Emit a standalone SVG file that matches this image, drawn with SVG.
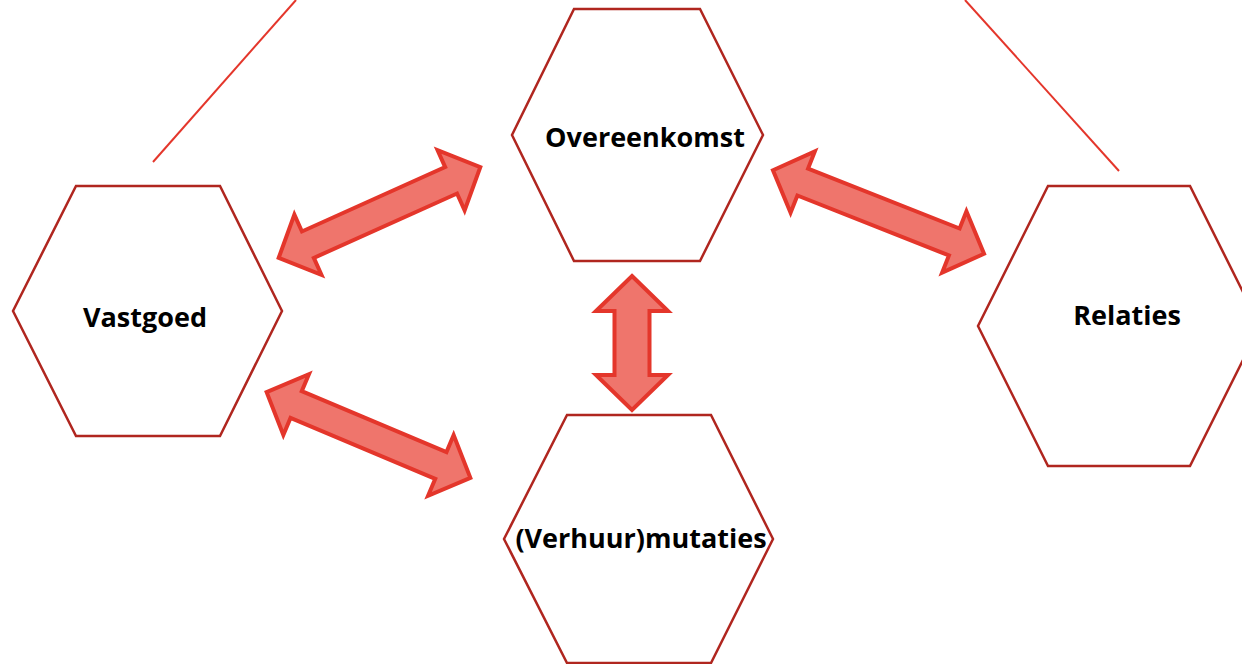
<svg xmlns="http://www.w3.org/2000/svg" width="1242" height="664" viewBox="0 0 1242 664">
<style>
.hex{fill:#ffffff;stroke:#b0261f;stroke-width:2.5;stroke-linejoin:miter}
.lbl{font-family:"Open Sans","Noto Sans","Liberation Sans",sans-serif;font-weight:700;font-size:27px;fill:#000000;text-anchor:middle}
.arr{fill:#ef756c;stroke:#e4362b;stroke-width:4;stroke-linejoin:miter}
.ln{stroke:#e4362b;stroke-width:2;fill:none}
</style>
<rect width="1242" height="664" fill="#ffffff"/>
<g id="lines">
<line class="ln" x1="153" y1="162" x2="296" y2="0"/>
<line class="ln" x1="965" y1="0" x2="1119" y2="171"/>
</g>
<g id="node-vastgoed">
<polygon class="hex" points="76,186 220,186 282,311 220,436 76,436 13,311"/>
<text class="lbl" x="145" y="327">Vastgoed</text>
</g>
<g id="node-overeenkomst">
<polygon class="hex" points="574,9 700,9 763,135 700,261 574,261 512,135"/>
<text class="lbl" x="645" y="147">Overeenkomst</text>
</g>
<g id="node-relaties">
<polygon class="hex" points="1048,186 1190,186 1260,326 1190,466 1048,466 978,326"/>
<text class="lbl" x="1127" y="325">Relaties</text>
</g>
<g id="node-mutaties">
<polygon class="hex" points="567,415 711,415 773,539 711,663 567,663 504,539"/>
<text class="lbl" x="641" y="548">(Verhuur)mutaties</text>
</g>
<g id="connectors">
<path class="arr" transform="translate(379.5,212.5) rotate(-24.2)" d="M-110.5,0 L-78.5,-33 L-78.5,-14.5 L78.5,-14.5 L78.5,-33 L110.5,0 L78.5,33 L78.5,14.5 L-78.5,14.5 L-78.5,33 Z"/>
<path class="arr" transform="translate(368.5,435) rotate(22.8)" d="M-110.5,0 L-78.5,-33 L-78.5,-14.5 L78.5,-14.5 L78.5,-33 L110.5,0 L78.5,33 L78.5,14.5 L-78.5,14.5 L-78.5,33 Z"/>
<path class="arr" transform="translate(878.5,212) rotate(21.6)" d="M-113.5,0 L-81.5,-33 L-81.5,-14.5 L81.5,-14.5 L81.5,-33 L113.5,0 L81.5,33 L81.5,14.5 L-81.5,14.5 L-81.5,33 Z"/>
<path class="arr" transform="translate(632,343) rotate(90)" d="M-67,0 L-32,-36 L-32,-17.5 L32,-17.5 L32,-36 L67,0 L32,36 L32,17.5 L-32,17.5 L-32,36 Z"/>
</g>
</svg>
